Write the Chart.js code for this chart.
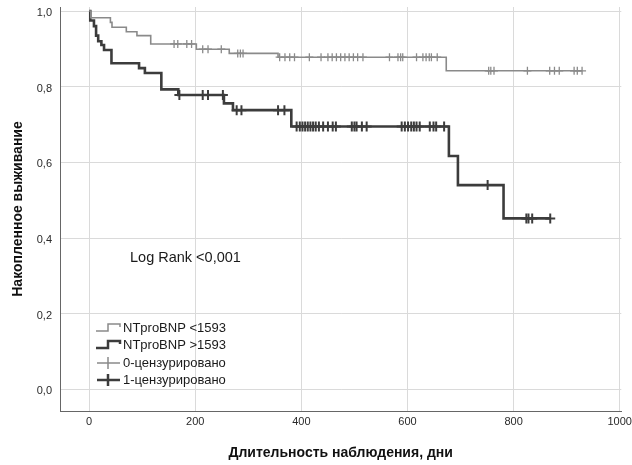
<!DOCTYPE html>
<html>
<head>
<meta charset="utf-8">
<script src="https://cdn.jsdelivr.net/npm/chart.js@4"></script>
<style>html,body{margin:0;padding:0;background:#fff}</style>
</head>
<body>
<canvas id="km" width="632" height="465"></canvas>
<script>
// Kaplan-Meier data (days, cumulative survival)
const groupLabels = ["NTproBNP <1593", "NTproBNP >1593"];
const censorLabels = ["0-цензурировано", "1-цензурировано"];

const lowTimes = [0, 3, 40, 43, 70, 90, 116, 202, 264, 356, 673];
const lowSurv = [1.0, 0.982, 0.970, 0.957, 0.945, 0.935, 0.913, 0.899, 0.888, 0.878, 0.842];
const lowCensored = [160, 167, 184, 193, 214, 224, 249, 280, 285, 290, 359, 369, 378, 387, 415, 437,
  450, 458, 466, 474, 482, 490, 498, 506, 516, 566, 582, 587, 591, 617, 629, 635, 641, 645, 656,
  753, 757, 763, 826, 868, 877, 886, 914, 920, 929];

const highTimes = [0, 2, 9, 13, 17, 23, 28, 42, 94, 105, 136, 168, 254, 271, 381, 678, 695, 781];
const highSurv = [1.0, 0.975, 0.960, 0.935, 0.920, 0.910, 0.897, 0.862, 0.849, 0.836, 0.793, 0.778,
  0.756, 0.738, 0.695, 0.617, 0.540, 0.452];
const highCensored = [170, 214, 224, 252, 278, 287, 356, 368, 391, 397, 402, 407, 412, 417, 422, 427,
  433, 441, 450, 459, 465, 495, 500, 504, 514, 523, 589, 595, 601, 607, 612, 617, 623, 642, 649, 654,
  669, 751, 824, 828, 835, 869];

const xTicks = [0, 200, 400, 600, 800, 1000];
const yTicks = [0, 0.2, 0.4, 0.6, 0.8, 1.0];

const FONT = "'Liberation Sans', Arial, sans-serif";
const lightCol = "#8a8a8a";
const darkCol = "#3c3c3c";

function survAt(times, surv, t) {
  let s = surv[0];
  for (let i = 0; i < times.length; i++) if (times[i] <= t) s = surv[i];
  return s;
}
function curve(times, surv, cens) {
  const pts = times.map((t, i) => ({x: t, y: surv[i]}));
  pts.push({x: Math.max(...cens), y: surv[surv.length - 1]});
  return pts;
}
function marks(times, surv, cens) {
  return cens.map(t => ({x: t, y: survAt(times, surv, t)}));
}

// legend + log rank note drawn inside the plot
const notes = {
  id: "notes",
  afterDatasetsDraw(chart) {
    const {ctx, chartArea} = chart;
    const x0 = chartArea.left + 36;
    ctx.save();
    ctx.fillStyle = "#1a1a1a";
    ctx.textBaseline = "middle";
    ctx.font = "14.5px " + FONT;
    ctx.fillText("Log Rank <0,001", chartArea.left + 70, 258);

    ctx.font = "13px " + FONT;
    const rows = [328, 345, 363, 380];
    const cols = [lightCol, darkCol, lightCol, darkCol];
    const widths = [1.5, 2.5, 1.5, 2.5];
    const texts = groupLabels.concat(censorLabels);
    rows.forEach((y, i) => {
      ctx.strokeStyle = cols[i];
      ctx.lineWidth = widths[i];
      ctx.beginPath();
      if (i < 2) {
        ctx.moveTo(x0, y + 3);
        ctx.lineTo(x0 + 12, y + 3);
        ctx.lineTo(x0 + 12, y - 4);
        ctx.lineTo(x0 + 24, y - 4);
        ctx.lineTo(x0 + 24, y - 1);
      } else {
        ctx.moveTo(x0 + 1, y);
        ctx.lineTo(x0 + 24, y);
        ctx.moveTo(x0 + 12, y - 6);
        ctx.lineTo(x0 + 12, y + 6);
      }
      ctx.stroke();
      ctx.fillText(texts[i], x0 + 27, y);
    });
    ctx.restore();
  }
};

new Chart(document.getElementById("km"), {
  type: "line",
  data: {
    datasets: [
      {label: groupLabels[0], data: curve(lowTimes, lowSurv, lowCensored), stepped: "before",
       borderColor: lightCol, borderWidth: 1.6, pointRadius: 0, fill: false},
      {label: groupLabels[1], data: curve(highTimes, highSurv, highCensored), stepped: "before",
       borderColor: darkCol, borderWidth: 2.6, pointRadius: 0, fill: false},
      {label: censorLabels[0], data: marks(lowTimes, lowSurv, lowCensored), showLine: false,
       pointStyle: "cross", pointRadius: 4, borderColor: lightCol, pointBorderWidth: 1.3},
      {label: censorLabels[1], data: marks(highTimes, highSurv, highCensored), showLine: false,
       pointStyle: "cross", pointRadius: 5, borderColor: darkCol, pointBorderWidth: 2}
    ]
  },
  options: {
    responsive: false,
    animation: false,
    layout: {padding: {left: 0, right: 10, top: 7, bottom: 0}},
    plugins: {legend: {display: false}, tooltip: {enabled: false}},
    scales: {
      x: {
        type: "linear", min: -55, max: 1003,
        afterBuildTicks: s => { s.ticks = xTicks.map(v => ({value: v})); },
        afterFit: s => { s.height = 54; },
        grid: {color: "#dadada", tickColor: "rgba(0,0,0,0)", tickLength: 5},
        border: {color: "#666", width: 1},
        ticks: {padding: 0, color: "#2a2a2a", font: {family: FONT, size: 11, lineHeight: 1},
                maxRotation: 0, callback: v => String(v)},
        title: {display: true, text: "Длительность наблюдения, дни", color: "#111",
                font: {family: FONT, size: 14, weight: "bold"}, padding: {top: 0, bottom: 3}}
      },
      y: {
        min: -0.057, max: 1.0106,
        afterBuildTicks: s => { s.ticks = yTicks.map(v => ({value: v})); },
        afterFit: s => { s.width = 60; },
        grid: {color: "#dadada", tickColor: "rgba(0,0,0,0)", tickLength: 8},
        border: {color: "#666", width: 1},
        ticks: {padding: 0, labelOffset: 2, color: "#2a2a2a",
                font: {family: FONT, size: 11, lineHeight: 1},
                callback: v => v.toFixed(1).replace(".", ",")},
        title: {display: true, text: "Накопленное выживание", color: "#111",
                font: {family: FONT, size: 14, weight: "bold"}, padding: {top: 10, bottom: 0}}
      }
    }
  },
  plugins: [notes]
});
</script>
</body>
</html>
